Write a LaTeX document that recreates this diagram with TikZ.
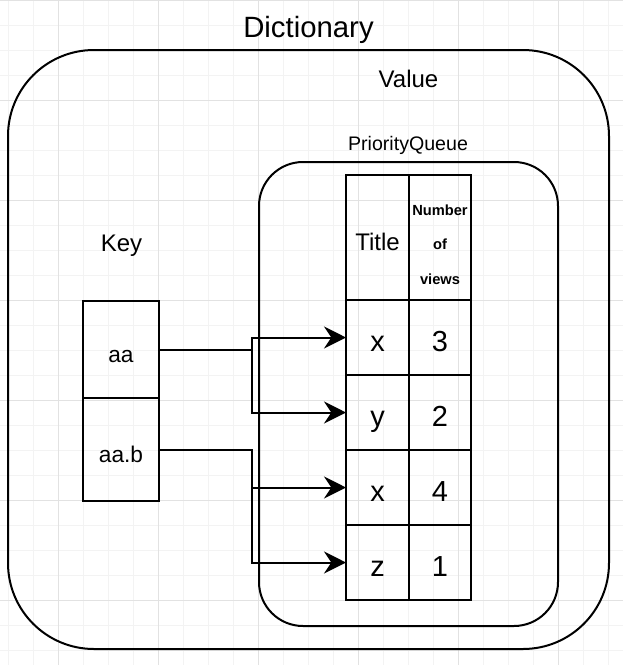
\documentclass[tikz,border=0pt]{standalone}
\usepackage{fontspec}
\setmainfont{Liberation Sans}
\usetikzlibrary{arrows.meta}
\definecolor{gminor}{RGB}{243,243,243}
\definecolor{gmajor}{RGB}{226,226,226}
\begin{document}
\begin{tikzpicture}[x=0.75pt,y=-0.75pt,
  box/.style={draw, line width=1.5pt, rectangle, inner sep=0pt, outer sep=0pt},
  container/.style={draw, line width=1.5pt, rectangle, inner sep=0pt, outer sep=0pt},
  colA/.style={minimum width=47.25pt},
  colB/.style={minimum width=46.5pt},
  hrow/.style={minimum height=93.75pt},
  drow/.style={minimum height=56.25pt},
  valtext/.style={font=\fontsize{21.75}{26}\selectfont, text height=20.25pt, text depth=0pt},
  keytext/.style={font=\fontsize{17}{20}\selectfont, text height=18.8pt, text depth=0pt},
  conn/.style={line width=1.5pt, -{Stealth[length=16.5pt, width=16.5pt, inset=5.5pt]}},
  gridminorline/.style={gminor, line width=0.75pt},
  gridmajorline/.style={gmajor, line width=0.75pt}
]
\useasboundingbox (0,0) rectangle (623,665);
\fill[white] (0,0) rectangle (623,665);
\foreach \x in {8,33,...,608} \draw[gridminorline] (\x,0) -- (\x,665);
\foreach \y in {0,25,...,650} \draw[gridminorline] (0,\y) -- (623,\y);
\foreach \x in {58,158,...,558} \draw[gridmajorline] (\x,0) -- (\x,665);
\foreach \y in {0,100,...,600} \draw[gridmajorline] (0,\y) -- (623,\y);

% containers
\node[container, rounded corners=64.5pt, minimum width=450.75pt, minimum height=449.25pt] (dict) at (308.5,349.5) {};
\node[container, rounded corners=33pt, minimum width=224.25pt, minimum height=348pt] (pq) at (408.5,394) {};

% labels
\node[font=\fontsize{22}{26}\selectfont, anchor=base, inner sep=0pt] (dicttitle) at (308.5,37) {Dictionary};
\node[font=\fontsize{18}{22}\selectfont, anchor=base, inner sep=0pt] (valuelbl) at (408.5,87) {Value};
\node[font=\fontsize{14.7}{18}\selectfont, anchor=base, inner sep=0pt] (pqlbl) at (408,150) {PriorityQueue};
\node[font=\fontsize{18}{22}\selectfont, anchor=base, inner sep=0pt] (keylbl) at (121.5,251) {Key};

% table
\node[box, colA, hrow, font=\fontsize{18}{22}\selectfont, text height=18.8pt, text depth=0pt] (h1) at (377.5,237.5) {Title};
\node[box, colB, hrow] (h2) at (440,237.5) {};
\node[font=\bfseries\fontsize{11}{26}\selectfont, align=center, inner sep=0pt] (nov) at (440,244.5) {Number\\of\\views};

\node[box, colA, drow, valtext] (r1a) at (377.5,337.5) {x};
\node[box, colB, drow, valtext] (r1b) at (440,337.5) {3};
\node[box, colA, drow, valtext] (r2a) at (377.5,412.5) {y};
\node[box, colB, drow, valtext] (r2b) at (440,412.5) {2};
\node[box, colA, drow, valtext] (r3a) at (377.5,487.5) {x};
\node[box, colB, drow, valtext] (r3b) at (440,487.5) {4};
\node[box, colA, drow, valtext] (r4a) at (377.5,562.5) {z};
\node[box, colB, drow, valtext] (r4b) at (440,562.5) {1};

% keys
\node[box, minimum width=57pt, minimum height=72.75pt, keytext] (k1) at (121,349.5) {aa};
\node[box, minimum width=57pt, minimum height=77.25pt, keytext] (k2) at (121,449.5) {aa.b};

% connectors
\coordinate (j) at (252,0);
\draw[conn] (k1.east) -- (k1.east -| j) |- (r1a.west);
\draw[conn] (k1.east) -- (k1.east -| j) |- (r2a.west);
\draw[conn] (k2.east) -- (k2.east -| j) |- (r3a.west);
\draw[conn] (k2.east) -- (k2.east -| j) |- (r4a.west);
\end{tikzpicture}
\end{document}
